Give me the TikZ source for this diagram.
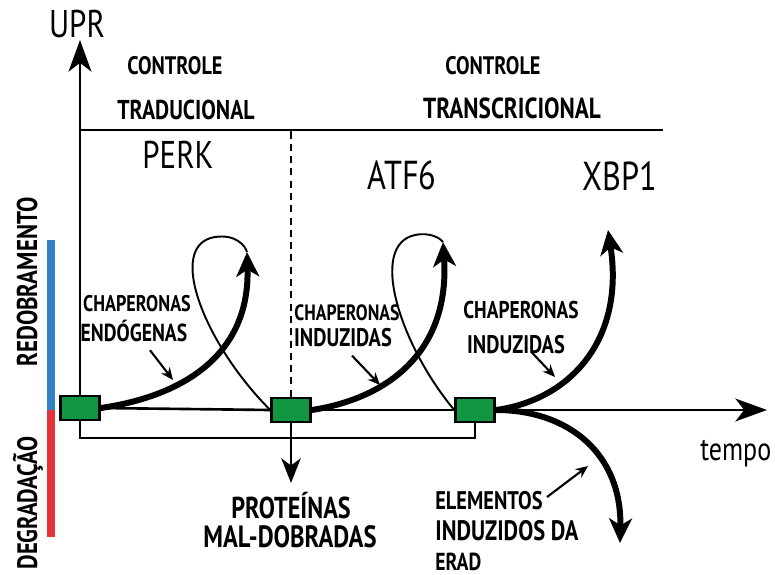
\documentclass[tikz,border=0pt]{standalone}
\usepackage{fontspec}
\setmainfont{PT Sans}[FakeStretch=0.8]
\usetikzlibrary{arrows.meta}
\definecolor{boxgreen}{RGB}{16,150,64}
\definecolor{barblue}{RGB}{52,128,196}
\definecolor{barred}{RGB}{228,52,58}
\begin{document}
\begin{tikzpicture}[x=0.02cm, y=-0.02cm,
  greenbox/.style={draw, line width=1.4pt, fill=boxgreen, minimum width=0.78cm, minimum height=0.48cm, inner sep=0pt},
  axisline/.style={line width=1.5pt},
  axisarrow/.style={line width=1.5pt, -{Stealth[length=18pt,width=13pt,inset=5pt]}},
  route/.style={line width=3.4pt, -{Stealth[length=14pt,width=13pt,inset=4pt]}},
  loopline/.style={line width=1.1pt},
  note/.style={line width=1.2pt, -{Stealth[length=7pt,width=6pt]}},
  lbl/.style={font=\bfseries\fontsize{#1}{#1}\selectfont, inner sep=0pt},
  lbl/.default=14,
  big/.style={font=\fontsize{#1}{#1}\selectfont, inner sep=0pt},
  big/.default=22]
\useasboundingbox (0,0) rectangle (775,575);
% boxes on the time axis
\node[greenbox] (box1) at (80,408){};
\node[greenbox] (box2) at (291,410){};
\node[greenbox] (box3) at (475,410){};
\coordinate (upr) at (80,40);
\coordinate (tophr) at (663,130);
\coordinate (botline) at (0,438);
\coordinate (tend) at (767,410);
\coordinate (misf) at (291,483);
\coordinate (tip1) at (247,252);
\coordinate (tip2) at (443,242);
\coordinate (tip3) at (608,230);
\coordinate (tip4) at (620,543);
% axes
\draw[axisarrow](box1.north) -- (upr);
\draw[axisline](upr |- tophr) -- (tophr);
\draw[axisline](box1.east) -- (box2.west);
\draw[axisline](box2.east) -- (box3.west);
\draw[axisarrow](box3.east) -- (tend);
\draw[axisline](box1.south) |- (box3.south |- botline) -- (box3.south);
\draw[line width=1.2pt, dash pattern=on 4pt off 3pt](box2.north) -- (box2.north |- tophr);
\draw[line width=1.6pt, -{Stealth[length=14pt,width=11pt,inset=4pt]}](box2.south) -- (misf);
% folding routes
\draw[route](box1.east) .. controls (190,395) and (250,350) .. (tip1);
\draw[loopline](box2.west) .. controls (205,345) and (165,245) .. (215,237) .. controls (235,234) and (245,245) .. (tip1);
\draw[route](box2.east) .. controls (390,398) and (450,350) .. (tip2);
\draw[loopline](box3.west) .. controls (400,345) and (368,245) .. (415,235) .. controls (430,232) and (440,238) .. (tip2);
\draw[route](box3.east) .. controls (570,400) and (625,340) .. (tip3);
\draw[route](box3.east) .. controls (570,410) and (622,455) .. (tip4);
% side bars
\draw[line width=4pt, barblue](51,240) -- (51,410);
\draw[line width=4pt, barred](51,410) -- (51,537);
\node[lbl=16.3, rotate=90] (redob) at (27,282){REDOBRAMENTO};
\node[lbl=16, rotate=90] (degr) at (28,503){DEGRADAÇÃO};
% headers
\node[big] (uprlbl) at (77,24){UPR};
\node[lbl=14.4] (ctrl1) at (175,66){CONTROLE};
\node[lbl=15.5] (trad) at (186,110){TRADUCIONAL};
\node[lbl=14.4] (ctrl2) at (493,66){CONTROLE};
\node[lbl=16.5] (trans) at (512,108){TRANSCRICIONAL};
\node[big] (perk) at (178,155){PERK};
\node[big=23] (atf6) at (402,175){ATF6};
\node[big=23] (xbp1) at (620,176){XBP1};
\node[big=18.5, anchor=base west] (tempo) at (700,460){tempo};
% labels on the routes
\node[lbl=12.9] (chap1) at (137,304){CHAPERONAS};
\node[lbl=14] (endo) at (134,331){ENDÓGENAS};
\node[lbl=12.6] (chap2) at (347,313){CHAPERONAS};
\node[lbl=14.5] (induz2) at (343,338){INDUZIDAS};
\node[lbl=13.8] (chap3) at (521,310){CHAPERONAS};
\node[lbl=14.5] (induz3) at (516,345){INDUZIDAS};
\draw[note]([shift={(16,8)}]endo.south) -- (173,380);
\draw[note]([shift={(9,8)}]induz2.south) -- (380,385);
\draw[note]([shift={(16,-2)}]induz3.south) -- (555,377);
\node[lbl=17.2] (prot) at (291,506){PROTEÍNAS};
\node[lbl=17.5] (maldo) at (290,537){MAL-DOBRADAS};
\node[lbl=14.5, anchor=west] (elem) at (435,501){ELEMENTOS};
\node[lbl=16, anchor=west] (induzd) at (435,531){INDUZIDOS DA};
\node[lbl=14, anchor=west] (erad) at (435,562){ERAD};
\draw[note]([shift={(4,-4)}]elem.east) -- (588,466);
\end{tikzpicture}
\end{document}
